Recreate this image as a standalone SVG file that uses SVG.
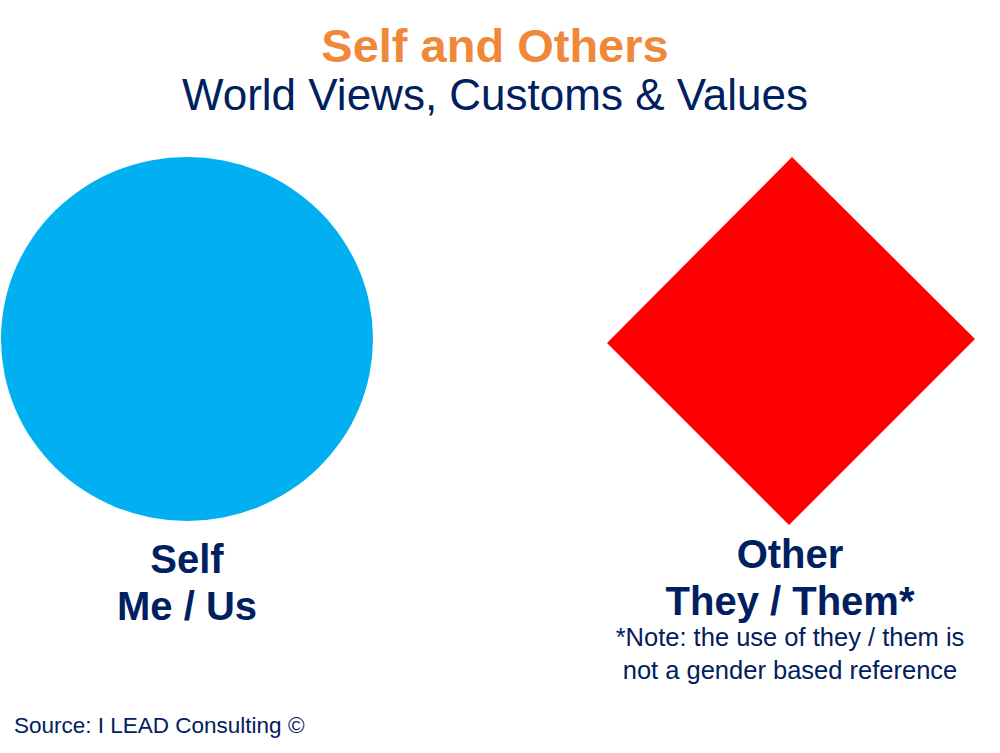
<svg xmlns="http://www.w3.org/2000/svg" width="1000" height="753" viewBox="0 0 1000 753">
<style>
text{font-family:"Liberation Sans",Arial,sans-serif;fill:#002060;text-anchor:middle}
.b{font-weight:bold}
</style>
<rect width="1000" height="753" fill="#ffffff"/>
<g id="title">
<text x="495" y="62" class="b" font-size="47" style="fill:#F0883A">Self and Others</text>
<text x="495" y="110" font-size="44">World Views, Customs &amp; Values</text>
</g>
<g id="self">
<ellipse cx="187" cy="339" rx="186" ry="182" fill="#00B0F0"/>
<text x="187" y="573" class="b" font-size="40">Self</text>
<text x="187" y="620" class="b" font-size="40">Me / Us</text>
</g>
<g id="other">
<polygon points="792,157 975,339 789,525 607,343" fill="#FF0000"/>
<text x="790" y="568" class="b" font-size="40">Other</text>
<text x="790" y="615" class="b" font-size="40">They / Them*</text>
<text x="790" y="646" font-size="25.5">*Note: the use of they / them is</text>
<text x="790" y="679" font-size="25.5">not a gender based reference</text>
</g>
<g id="connectors"></g>
<g id="source">
<text x="14" y="733" font-size="22.5" style="text-anchor:start">Source: I LEAD Consulting ©</text>
</g>
</svg>
